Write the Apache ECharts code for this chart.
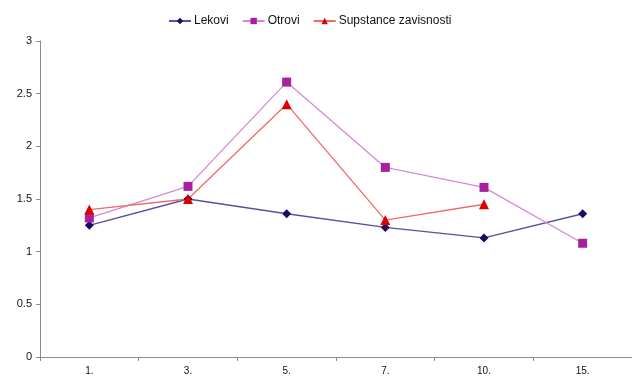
<!DOCTYPE html>
<html>
<head>
<meta charset="utf-8">
<script src="https://cdn.jsdelivr.net/npm/echarts@6/dist/echarts.min.js"></script>
<style>
  html, body { margin: 0; padding: 0; background: #fff; }
  #chart { width: 632px; height: 379px; }
</style>
</head>
<body>
<div id="chart"></div>
<script>
// Categories along the x axis
const categories = ['1.', '3.', '5.', '7.', '10.', '15.'];

// Series values
const lekovi = [1.25, 1.5, 1.36, 1.23, 1.13, 1.36];
const otrovi = [1.32, 1.62, 2.61, 1.8, 1.61, 1.08];
const supstance = [1.4, 1.5, 2.4, 1.3, 1.45, null];

const seriesNames = ['Lekovi', 'Otrovi', 'Supstance zavisnosti'];

const chart = echarts.init(document.getElementById('chart'));
const font = 'Liberation Sans, Arial, sans-serif';

function line(name, data, symbol, size, lineColor, markColor) {
  return {
    name: name,
    type: 'line',
    data: data,
    symbol: symbol,
    symbolSize: size,
    showSymbol: true,
    connectNulls: false,
    lineStyle: { color: lineColor, width: 1.3 },
    itemStyle: { color: markColor, borderWidth: 0 },
    emphasis: { disabled: true },
    animation: false
  };
}

chart.setOption({
  animation: false,
  backgroundColor: '#fff',
  legend: {
    top: 10,
    left: 163,
    itemWidth: 22,
    itemHeight: 8,
    itemGap: 13,
    textStyle: { fontFamily: font, fontSize: 12, color: '#111', padding: [0, 0, 0, -2] },
    data: seriesNames
  },
  grid: { left: 40, right: 0, top: 41, bottom: 22, containLabel: false },
  xAxis: {
    type: 'category',
    data: categories,
    boundaryGap: true,
    axisLine: { lineStyle: { color: '#8c8c8c', width: 1 } },
    axisTick: { show: true, alignWithLabel: false, length: 4, lineStyle: { color: '#8c8c8c' } },
    axisLabel: { fontFamily: font, fontSize: 10, color: '#111', margin: 9 }
  },
  yAxis: {
    type: 'value',
    min: 0,
    max: 3,
    interval: 0.5,
    splitLine: { show: false },
    axisLine: { show: true, lineStyle: { color: '#8c8c8c', width: 1 } },
    axisTick: { show: true, length: 4, lineStyle: { color: '#8c8c8c' } },
    axisLabel: { fontFamily: font, fontSize: 11, color: '#111', margin: 8 }
  },
  series: [
    line(seriesNames[0], lekovi, 'diamond', 9, '#5a4ea0', '#1e0a64'),
    line(seriesNames[1], otrovi, 'rect', 9, '#d58ad5', '#a6209f'),
    line(seriesNames[2], supstance, 'triangle', 10, '#f06a6a', '#dd0000')
  ]
});
</script>
</body>
</html>
